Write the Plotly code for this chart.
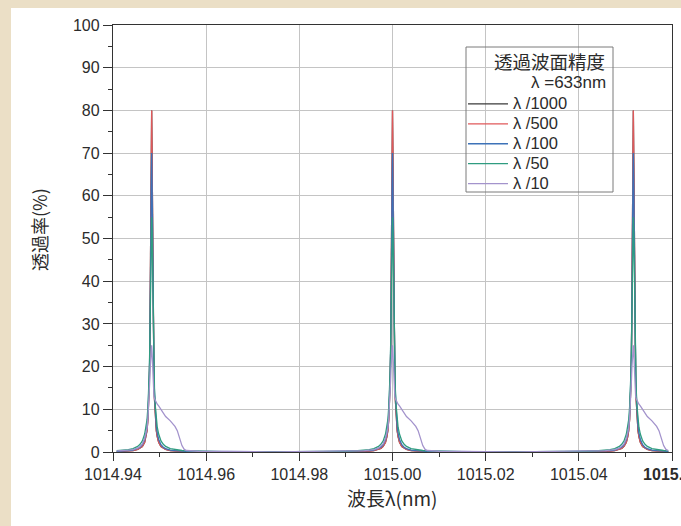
import plotly.graph_objects as go

# ---------------- data ----------------
peak_centers = [1014.9483, 1015.0000, 1015.0517]   # nm

series_names = ["λ /1000", "λ /500", "λ /100", "λ /50", "λ /10"]
series_colors = ["#3a3a3a", "#e0585a", "#3d72b8", "#2f9c80", "#a393cc"]

# offsets from each peak centre (nm)
offsets = [-0.025, -0.015, -0.010, -0.0075, -0.006, -0.005, -0.004, -0.003, -0.0025,
           -0.002, -0.0015, -0.0012, -0.001, -0.0008, -0.0006, -0.0005, -0.0004,
           -0.0003, -0.0002, -0.0001, 0.0,
           0.0001, 0.0002, 0.0003, 0.0004, 0.0005, 0.0006, 0.0008, 0.001, 0.0012,
           0.0015, 0.002, 0.0025, 0.003, 0.004, 0.005, 0.0055, 0.006, 0.0065,
           0.007, 0.0075, 0.010, 0.015, 0.025]

t_1000 = [0.02, 0.04, 0.08, 0.1, 0.15, 0.22, 0.34, 0.6, 0.86,
          1.3, 2.3, 3.6, 5.0, 7.6, 12.5, 16.5, 23.0,
          34.0, 48.0, 68.0, 80.0,
          68.0, 48.0, 34.0, 23.0, 16.5, 12.5, 7.6, 5.0, 3.6,
          2.3, 1.3, 0.86, 0.6, 0.34, 0.22, 0.18, 0.15, 0.13,
          0.11, 0.1, 0.08, 0.04, 0.02]
t_500 = [0.02, 0.04, 0.08, 0.1, 0.15, 0.22, 0.34, 0.6, 0.86,
         1.3, 2.3, 3.6, 5.0, 7.6, 12.5, 16.5, 23.0,
         34.0, 48.0, 68.0, 80.0,
         68.0, 48.0, 34.0, 23.0, 16.5, 12.5, 7.6, 5.0, 3.6,
         2.3, 1.3, 0.86, 0.6, 0.34, 0.22, 0.18, 0.15, 0.13,
         0.11, 0.1, 0.08, 0.04, 0.02]
t_100 = [0.03, 0.06, 0.12, 0.16, 0.2, 0.3, 0.45, 0.8, 1.1,
         1.7, 3.0, 4.4, 6.0, 9.0, 14.0, 18.0, 24.0,
         32.0, 46.0, 62.0, 70.0,
         62.0, 46.0, 32.0, 24.0, 18.0, 14.0, 9.0, 6.0, 4.4,
         3.0, 1.7, 1.1, 0.8, 0.45, 0.3, 0.25, 0.2, 0.18,
         0.16, 0.14, 0.12, 0.06, 0.03]
t_50 = [0.05, 0.09, 0.2, 0.3, 0.4, 0.55, 0.8, 1.3, 1.8,
        2.6, 4.2, 5.8, 7.5, 10.5, 15.0, 19.0, 25.0,
        33.0, 42.0, 51.0, 55.0,
        51.0, 42.0, 33.0, 25.0, 19.0, 15.0, 10.5, 7.5, 5.8,
        4.2, 2.6, 1.8, 1.3, 0.8, 0.55, 0.45, 0.4, 0.35,
        0.3, 0.28, 0.2, 0.09, 0.05]
t_10 = [0.05, 0.09, 0.18, 0.25, 0.3, 0.42, 0.55, 0.9, 1.3,
        1.9, 3.2, 4.4, 5.6, 8.0, 11.5, 14.0, 17.0,
        20.0, 23.0, 24.5, 25.0,
        23.0, 19.0, 16.0, 14.0, 13.0, 12.5, 12.0, 11.5, 11.2,
        10.8, 10.0, 9.0, 8.3, 7.3, 6.0, 5.0, 3.2, 1.5,
        0.6, 0.35, 0.18, 0.08, 0.04]

series_values = [t_1000, t_500, t_100, t_50, t_10]

x_range = [1014.94, 1015.06]
x_tickvals = [1014.94, 1014.96, 1014.98, 1015.00, 1015.02, 1015.04, 1015.06]
x_ticktext = ["1014.94", "1014.96", "1014.98", "1015.00", "1015.02", "1015.04", "<b>1015.06</b>"]
y_tickvals = [0, 10, 20, 30, 40, 50, 60, 70, 80, 90, 100]

legend_title_1 = "透過波面精度"
legend_title_2 = "λ =633nm"
x_title = "波長λ(nm)"
y_title = "透過率(%)"

# ---------------- figure ----------------
W, H = 681, 526
L, R, T, B = 113, 9, 25, 74
pw, ph = W - L - R, H - T - B


def px(xp):
    return (xp - L) / pw


def py(yp):
    return (H - B - yp) / ph


FONT = "Liberation Sans, Arial, Noto Sans CJK JP, sans-serif"
CJK = "Noto Sans CJK JP, Liberation Sans, sans-serif"
TXT = "#2b2b2b"

fig = go.Figure()
for name, color, vals in zip(series_names, series_colors, series_values):
    xs, ys = [], []
    for c in peak_centers:
        for o, v in zip(offsets, vals):
            x = c + o
            if x_range[0] <= x <= x_range[1]:
                xs.append(x)
                ys.append(v)
    fig.add_trace(go.Scatter(x=xs, y=ys, mode="lines",
                             name='<span style="font-size:16.5px">' + name + '</span>',
                             line=dict(color=color, width=1.3)))

fig.update_layout(
    width=W, height=H,
    margin=dict(l=L, r=R, t=T, b=B, autoexpand=False),
    paper_bgcolor="#ebdfc6",
    plot_bgcolor="white",
    font=dict(family=FONT, size=16, color=TXT),
    showlegend=True,
    legend=dict(x=px(463), y=py(89), xanchor="left", yanchor="top",
                bgcolor="rgba(0,0,0,0)", borderwidth=0,
                font=dict(family=FONT, size=13, color=TXT),
                itemwidth=40, tracegroupgap=0),
    shapes=[
        dict(type="rect", xref="paper", yref="paper",
             x0=px(11), x1=px(W + 5), y0=py(H + 5), y1=py(8),
             fillcolor="white", line=dict(width=0), layer="below"),
        dict(type="rect", xref="paper", yref="paper",
             x0=px(466), x1=px(613), y0=py(192), y1=py(47),
             fillcolor="rgba(255,255,255,0)", line=dict(color="#7a7a7a", width=1)),
    ],
    annotations=[
        dict(text=legend_title_1, xref="paper", yref="paper", x=px(607), y=py(61),
             xanchor="right", yanchor="middle", showarrow=False,
             font=dict(family=CJK, size=18.5, color=TXT)),
        dict(text=legend_title_2, xref="paper", yref="paper", x=px(608), y=py(82),
             xanchor="right", yanchor="middle", showarrow=False,
             font=dict(family=FONT, size=17, color=TXT)),
        dict(text=x_title, xref="paper", yref="paper", x=px(392), y=py(498),
             xanchor="center", yanchor="middle", showarrow=False,
             font=dict(family=CJK, size=19, color=TXT)),
        dict(text=y_title, xref="paper", yref="paper", x=px(39), y=py(230),
             xanchor="center", yanchor="middle", showarrow=False, textangle=-90,
             font=dict(family=CJK, size=18, color=TXT)),
    ],
)

fig.update_xaxes(
    range=x_range, tickvals=x_tickvals, ticktext=x_ticktext,
    showgrid=True, gridcolor="#c4c4c4", gridwidth=1,
    showline=True, linecolor="#333333", linewidth=1.3, mirror=True,
    ticks="outside", ticklen=8, tickwidth=1.3, tickcolor="#333333",
    minor=dict(dtick=0.01, ticks="outside", ticklen=4, tickcolor="#333333", showgrid=False),
    tickfont=dict(size=16), zeroline=False, ticklabeloverflow="allow",
)
fig.update_yaxes(
    range=[0, 100], tickvals=y_tickvals,
    showgrid=True, gridcolor="#c4c4c4", gridwidth=1,
    showline=True, linecolor="#333333", linewidth=1.3, mirror=True,
    ticks="outside", ticklen=9, tickwidth=1.3, tickcolor="#333333",
    minor=dict(dtick=5, ticks="outside", ticklen=4, tickcolor="#333333", showgrid=False),
    tickfont=dict(size=16), zeroline=False,
)

fig.write_html("out.html", config={"displayModeBar": False},
               post_script="document.body.style.margin='0';document.body.style.overflow='hidden';")
